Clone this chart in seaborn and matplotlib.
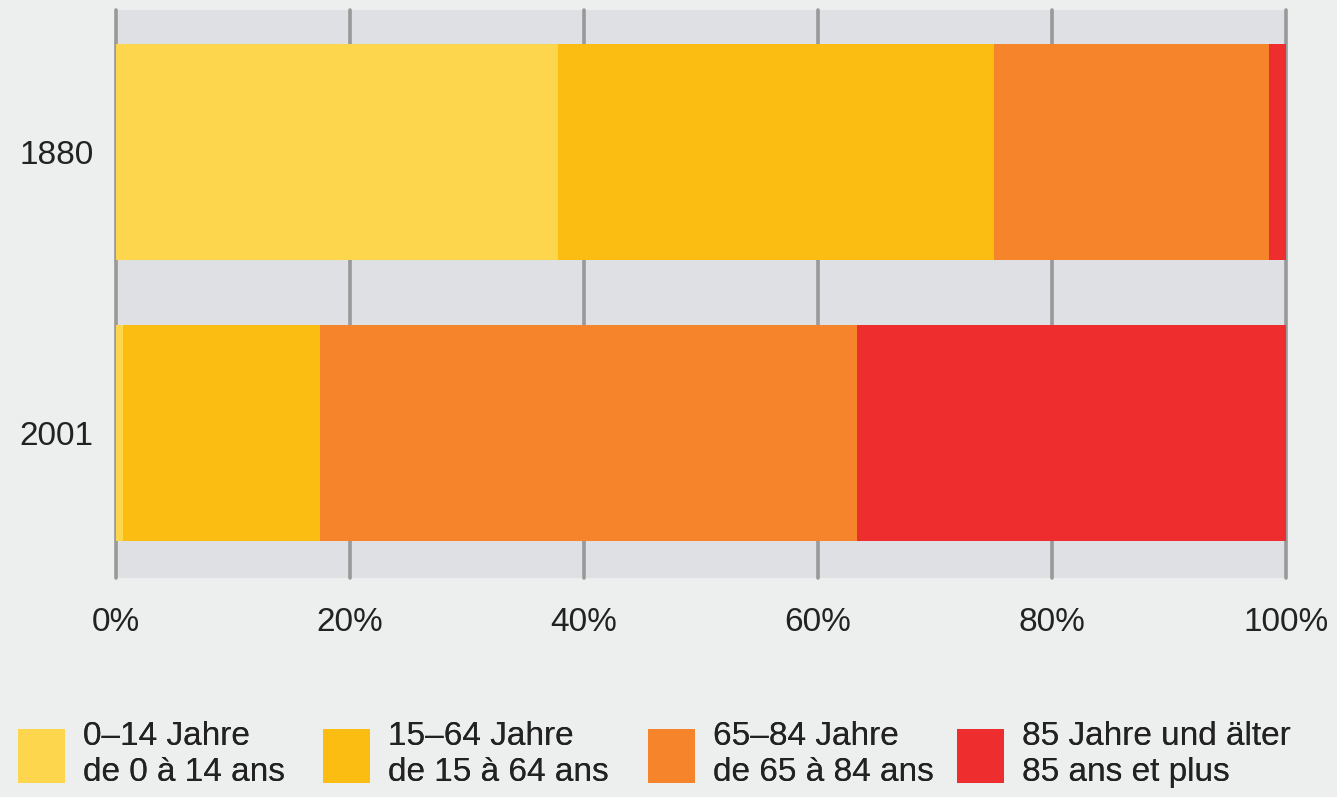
import matplotlib
matplotlib.use('Agg')
import matplotlib.pyplot as plt
import seaborn as sns
import pandas as pd
from matplotlib.patches import Patch

# Age structure, share in percent
years = ['1880', '2001']
age_0_14 = [37.8, 0.6]
age_15_64 = [37.2, 16.8]
age_65_84 = [23.5, 45.9]
age_85_plus = [1.5, 36.7]

labels = ['0–14 Jahre\nde 0 à 14 ans',
          '15–64 Jahre\nde 15 à 64 ans',
          '65–84 Jahre\nde 65 à 84 ans',
          '85 Jahre und älter\n85 ans et plus']
colors = ['#FED64E', '#FCBD12', '#F5842A', '#EE2D2F']
xticks = [0, 20, 40, 60, 80, 100]
# where each legend entry starts (figure fraction)
legend_x = [0.0135, 0.2416, 0.4847, 0.7158]

sns.set_style('white')
plt.rcParams['font.family'] = ['Liberation Sans', 'DejaVu Sans']

df = pd.DataFrame({'year': years, 'a': age_0_14, 'b': age_15_64,
                   'c': age_65_84, 'd': age_85_plus})
cols = ['a', 'b', 'c', 'd']
cum = df[cols].cumsum(axis=1)

fig = plt.figure(figsize=(13.37, 7.97), dpi=100, facecolor='#EDEFEE')
ax = fig.add_axes([0.0868, 0.2748, 0.8751, 0.7127])
ax.set_facecolor('#DFE0E4')

# draw from the total down so the shorter bars sit on top
for col, color in reversed(list(zip(cols, colors))):
    sns.barplot(x=cum[col], y=df['year'], orient='h', color=color,
                saturation=1, width=0.77, linewidth=0, ax=ax)

ax.set_xlim(0, 100)
ax.set_ylim(1.515, -0.505)
ax.set_xticks(xticks)
ax.set_xticklabels([f'{t}%' for t in xticks])
ax.set_xlabel('')
ax.set_ylabel('')
ax.grid(axis='x', color='#999999', linewidth=2.6)
ax.set_axisbelow(True)
for gl in ax.get_xgridlines():
    gl.set_clip_on(False)
for s in ax.spines.values():
    s.set_visible(False)
ax.tick_params(axis='x', length=0, pad=21, labelsize=24, labelcolor='#222222')
ax.tick_params(axis='y', length=0, pad=16, labelsize=24, labelcolor='#222222')

# one legend per entry so they line up like the original
for lab, color, x0 in zip(labels, colors, legend_x):
    leg = fig.legend([Patch(facecolor=color, edgecolor='none')], [lab],
                     loc='center left', bbox_to_anchor=(x0, 0.053),
                     frameon=False, fontsize=24, handlelength=1.4,
                     handleheight=2.1, handletextpad=0.55, borderpad=0,
                     borderaxespad=0, labelcolor='#222222')
    for t in leg.get_texts():
        t.set_linespacing(1.2)
    fig.add_artist(leg)

fig.savefig('out.png', dpi=100, facecolor=fig.get_facecolor())
